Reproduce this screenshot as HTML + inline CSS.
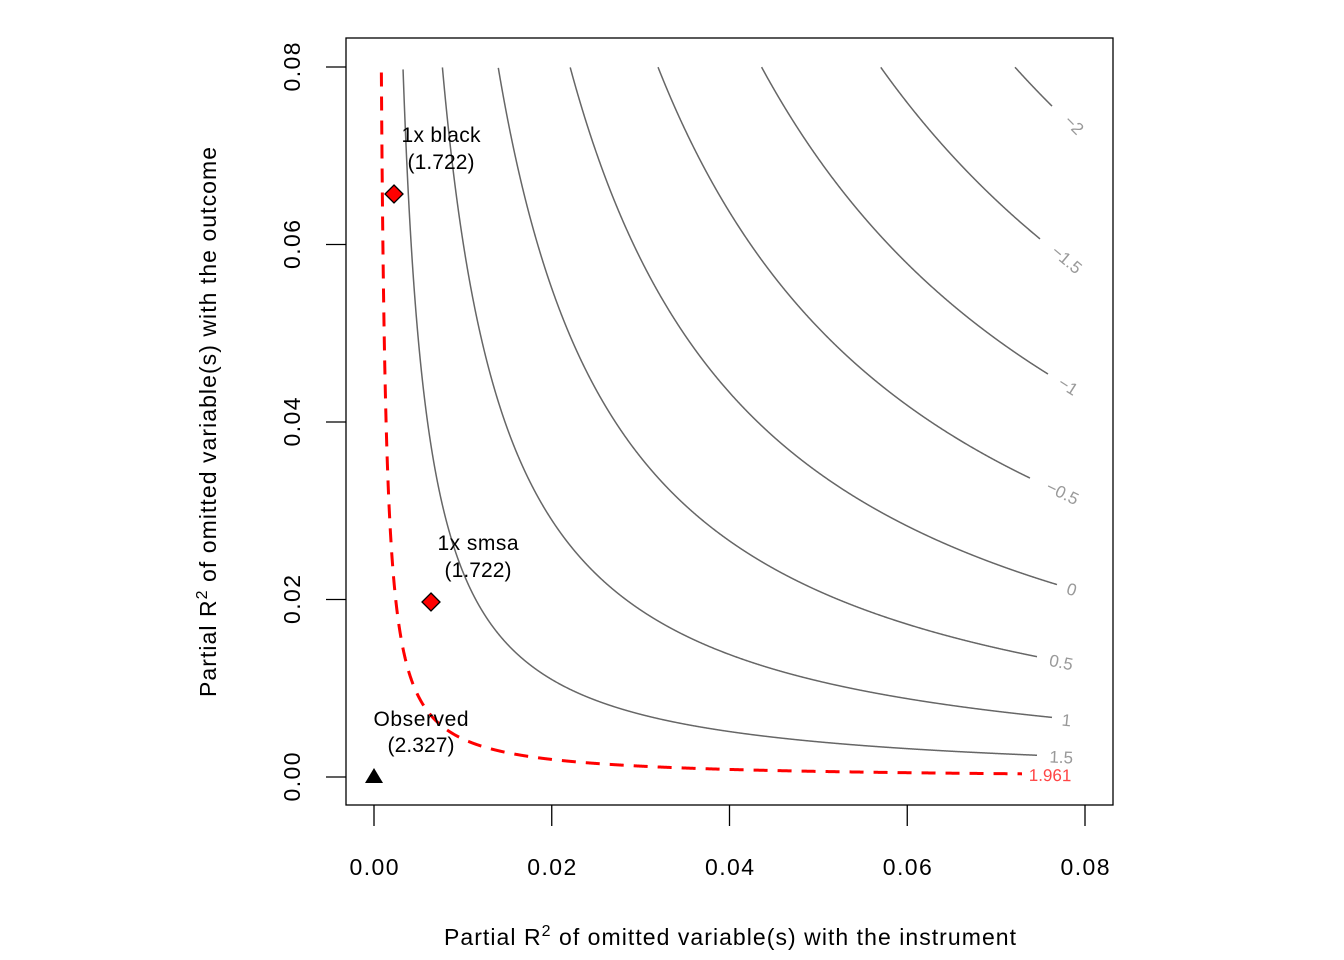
<!DOCTYPE html>
<html><head><meta charset="utf-8"><style>
html,body{margin:0;padding:0;background:#fff;}
svg{display:block;font-family:"Liberation Sans",Arial,sans-serif;}
</style></head><body>
<svg id="s" width="1344" height="960" viewBox="0 0 1344 960" xmlns="http://www.w3.org/2000/svg">
<rect x="346" y="38" width="767" height="767" fill="none" stroke="#000" stroke-width="1.3"/>
<g stroke="#000" stroke-width="1.3">
<line x1="374" y1="805" x2="374" y2="826"/><line x1="551.75" y1="805" x2="551.75" y2="826"/>
<line x1="729.5" y1="805" x2="729.5" y2="826"/><line x1="907.25" y1="805" x2="907.25" y2="826"/>
<line x1="1085" y1="805" x2="1085" y2="826"/>
<line x1="346" y1="777" x2="326" y2="777"/><line x1="346" y1="599.5" x2="326" y2="599.5"/>
<line x1="346" y1="422" x2="326" y2="422"/><line x1="346" y1="244.5" x2="326" y2="244.5"/>
<line x1="346" y1="67" x2="326" y2="67"/>
</g>
<g font-size="23" fill="#000" text-anchor="middle">
<text x="374" y="875" textLength="49">0.00</text><text x="551.75" y="875" textLength="49">0.02</text><text x="729.5" y="875" textLength="49">0.04</text><text x="907.25" y="875" textLength="49">0.06</text><text x="1085" y="875" textLength="49">0.08</text>
<text transform="translate(300,777) rotate(-90)" textLength="49">0.00</text>
<text transform="translate(300,599.5) rotate(-90)" textLength="49">0.02</text>
<text transform="translate(300,422) rotate(-90)" textLength="49">0.04</text>
<text transform="translate(300,244.5) rotate(-90)" textLength="49">0.06</text>
<text transform="translate(300,67) rotate(-90)" textLength="49">0.08</text>
<text x="730" y="945" textLength="572">Partial R<tspan font-size="16" dy="-9">2</tspan><tspan dy="9"> of omitted variable(s) with the instrument</tspan></text>
<text transform="translate(216,422) rotate(-90)" textLength="550">Partial R<tspan font-size="16" dy="-9">2</tspan><tspan dy="9"> of omitted variable(s) with the outcome</tspan></text>
</g>
<g id="curves"></g>
<polygon points="374,768 365,783 383,783" fill="#000"/>
<polygon points="394,185 403,194 394,203 385,194" fill="#f00" stroke="#000" stroke-width="1.3"/>
<polygon points="431,593 440,602 431,611 422,602" fill="#f00" stroke="#000" stroke-width="1.3"/>
<g font-size="21" fill="#000" text-anchor="middle">
<text x="441" y="142" textLength="79">1x black</text><text x="441" y="169" textLength="67">(1.722)</text>
<text x="478" y="550" textLength="81">1x smsa</text><text x="478" y="577" textLength="67">(1.722)</text>
<text x="421" y="726" textLength="95">Observed</text><text x="421" y="752" textLength="67">(2.327)</text>
</g>
</svg>
<script>
var t=2.327,df=3000;
function f(x,y){return (t-Math.sqrt(df*x*y/(1-x)))/Math.sqrt((1-y)/(1-x));}
function X(x){return 374+x*8887.5;}function Y(y){return 777-y*8875;}
var lev=[[-2,1052,1070,123,"\u22122"],[-1.5,1040,1063,258,"\u22121.5"],[-1,1048,1065,385,"\u22121"],[-0.5,1030,1060,492,"\u22120.5"],[0,1057,1070,589,"0"],[0.5,1037,1060,662,"0.5"],[1,1052,1066,720,"1"],[1.5,1037,1061,757,"1.5"],[1.961,1022,1050,775,"1.961"]];
var g=document.getElementById("curves"),h="";
lev.forEach(function(L){
 var L0=L[0],xe=(L[1]-374)/8887.5,pts=[];
 for(var i=0;i<=3000;i++){
  var x=xe*Math.pow(i/3000,2);
  if(x<=0)continue;
  if(f(x,0.08)>L0||f(x,0)<L0)continue;
  var a=0,b=0.08;
  for(var k=0;k<50;k++){var m=(a+b)/2;if(f(x,m)>L0)a=m;else b=m;}
  pts.push(X(x).toFixed(2)+","+Y((a+b)/2).toFixed(2));
 }
 var red=L0==1.961;
 h+='<polyline fill="none" points="'+pts.join(" ")+'" stroke="'+(red?"#f00":"#666")+'" stroke-width="'+(red?3:1.5)+'"'+(red?' stroke-dasharray="14,10"':'')+'/>';
 var p1=pts[pts.length-1].split(","),p0=pts[pts.length-20].split(",");
 var ang=Math.atan2(p1[1]-p0[1],p1[0]-p0[0])*180/Math.PI;
 h+='<text font-size="17" fill="'+(red?"#f44":"#999")+'" text-anchor="middle" transform="translate('+L[2]+','+(L[3]+6)+') rotate('+ang.toFixed(1)+')">'+L[4]+'</text>';
});
g.innerHTML=h;
</script>
</body></html>
